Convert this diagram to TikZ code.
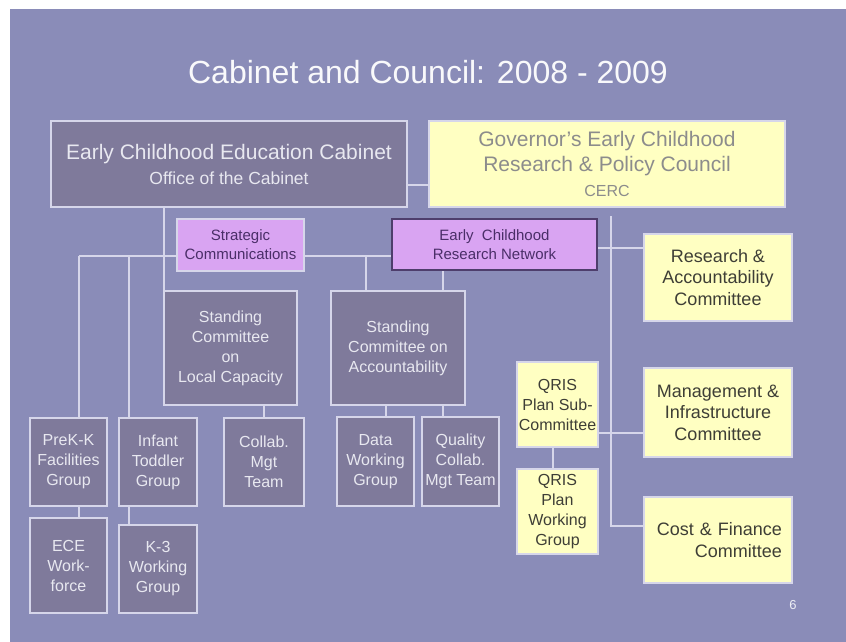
\documentclass[tikz,border=0pt]{standalone}
\usepackage{fontspec}
\setmainfont{Liberation Sans}
\usetikzlibrary{backgrounds}
\definecolor{bg}{HTML}{8A8CB8}
\definecolor{darkbox}{HTML}{7F7A9B}
\definecolor{edgecol}{HTML}{D6D6EA}
\definecolor{yel}{HTML}{FFFFC2}
\definecolor{vio}{HTML}{D9A4F2}
\definecolor{vioedge}{HTML}{4E3E6C}
\definecolor{viotext}{HTML}{4A2E68}
\definecolor{lighttext}{HTML}{E8E8F0}
\definecolor{graytext}{HTML}{8C8C8C}
\definecolor{darktext}{HTML}{3E3E36}
\begin{document}
\begin{tikzpicture}[x=1pt,y=-1pt,
  basebox/.style={draw=edgecol, line width=2pt, inner sep=2pt, align=center},
  darkstyle/.style={basebox, fill=darkbox, text=lighttext, font=\fontsize{16}{20}\selectfont},
  yelstyle/.style={basebox, fill=yel, text=darktext, font=\fontsize{18}{21.5}\selectfont},
  yelsmall/.style={basebox, fill=yel, text=darktext, font=\fontsize{16}{20}\selectfont},
  viostyle/.style={basebox, fill=vio, text=viotext, font=\fontsize{15}{19}\selectfont},
  link/.style={draw=edgecol, line width=2.5pt}
]
\useasboundingbox (0,0) rectangle (846,642);
\begin{pgfonlayer}{background}
\fill[white] (0,0) rectangle (846,642);
\fill[bg] (10,9) rectangle (846,642);
\end{pgfonlayer}

\node[text=white!95!bg, font=\fontsize{32}{38}\selectfont] (title) at (428,72) {Cabinet and Council: 2008 - 2009};

% top level
\node[darkstyle, minimum width=356pt, minimum height=86pt] (cab) at (229,164)
  {{\fontsize{21}{26}\selectfont Early Childhood Education Cabinet}\\[5pt]{\fontsize{17.5}{21}\selectfont Office of the Cabinet}};
\node[basebox, fill=yel, text=graytext, minimum width=356pt, minimum height=86pt, font=\fontsize{21}{25}\selectfont] (council) at (607,164)
  {Governor's Early Childhood\\Research \& Policy Council\\{\fontsize{16}{19}\selectfont CERC}};

% violet boxes
\node[viostyle, minimum width=127pt, minimum height=52pt] (strat) at (240.5,245) {Strategic\\Communications};
\node[viostyle, draw=vioedge, minimum width=205pt, minimum height=51pt] (ecrn) at (494.5,244.5) {Early\ \ Childhood\\Research Network};

% right committees
\node[yelstyle, minimum width=148pt, minimum height=87pt] (rac) at (718,277.5) {Research \&\\Accountability\\Committee};
\node[yelstyle, minimum width=148pt, minimum height=89pt] (mi) at (718,412.5) {Management \&\\Infrastructure\\Committee};
\node[yelstyle, minimum width=148pt, minimum height=86pt, align=right, text width=128pt] (cf) at (718,540) {Cost \& Finance\\Committee};

% standing committees
\node[darkstyle, minimum width=133pt, minimum height=114pt] (sclc) at (230.5,348) {Standing\\Committee\\on\\Local Capacity};
\node[darkstyle, minimum width=134pt, minimum height=114pt] (sca) at (398,348) {Standing\\Committee on\\Accountability};

% groups
\node[darkstyle, minimum width=77pt, minimum height=88pt] (prek) at (68.5,462) {PreK-K\\Facilities\\Group};
\node[darkstyle, minimum width=78pt, minimum height=88pt] (infant) at (158,462) {Infant\\Toddler\\Group};
\node[darkstyle, minimum width=80pt, minimum height=88pt] (collab) at (264,462) {Collab.\\Mgt\\Team};
\node[darkstyle, minimum width=77pt, minimum height=89pt] (data) at (375.5,461.5) {Data\\Working\\Group};
\node[darkstyle, minimum width=77pt, minimum height=89pt, inner sep=0pt] (quality) at (460.5,461.5) {Quality\\Collab.\\Mgt Team};
\node[darkstyle, minimum width=77pt, minimum height=95pt] (ece) at (68.5,565.5) {ECE\\Work-\\force};
\node[darkstyle, minimum width=78pt, minimum height=88pt] (k3) at (158,569) {K-3\\Working\\Group};

% QRIS
\node[yelsmall, minimum width=81pt, minimum height=85pt, inner sep=0pt] (qsub) at (557.5,404.5) {QRIS\\Plan Sub-\\Committee};
\node[yelsmall, minimum width=81pt, minimum height=85pt] (qwg) at (557.5,511.5) {QRIS\\Plan\\Working\\Group};

\node[text=white!85!bg, font=\fontsize{13}{15}\selectfont] (pagenum) at (793,605) {6};

% junction coordinates
\coordinate (jcab) at (0,185);
\coordinate (b1) at (79,256);
\coordinate (b2) at (129,256);
\coordinate (b3) at (366,256);
\coordinate (xc) at (164,0);
\coordinate (xr) at (443,0);
\coordinate (xd) at (386,0);
\coordinate (yr) at (0,248);
\coordinate (xv) at (611,0);
\coordinate (turn) at (611,526);
\coordinate (ym) at (0,433);
\coordinate (xq) at (553,0);

\begin{pgfonlayer}{background}
\draw[link] (cab.east |- jcab) -- (council.west |- jcab);
\draw[link] (b1) -- (ecrn.west |- b1);
\draw[link] (b1) -- (b1 |- prek.north);
\draw[link] (b1 |- prek.south) -- (b1 |- ece.north);
\draw[link] (b2) -- (b2 |- infant.north);
\draw[link] (b2 |- infant.south) -- (b2 |- k3.north);
\draw[link] (xc |- cab.south) -- (xc |- sclc.north);
\draw[link] (collab.north |- sclc.south) -- (collab.north);
\draw[link] (b3) -- (b3 |- sca.north);
\draw[link] (xr |- ecrn.south) -- (xr |- sca.north);
\draw[link] (xd |- sca.south) -- (xd |- data.north);
\draw[link] (xr |- sca.south) -- (xr |- quality.north);
\draw[link] (ecrn.east |- yr) -- (rac.west |- yr);
\draw[link, shorten <=8pt] (xv |- council.south) -- (turn) -- (cf.west |- turn);
\draw[link] (qsub.east |- ym) -- (mi.west |- ym);
\draw[link] (xq |- qsub.south) -- (xq |- qwg.north);
\end{pgfonlayer}
\end{tikzpicture}
\end{document}
